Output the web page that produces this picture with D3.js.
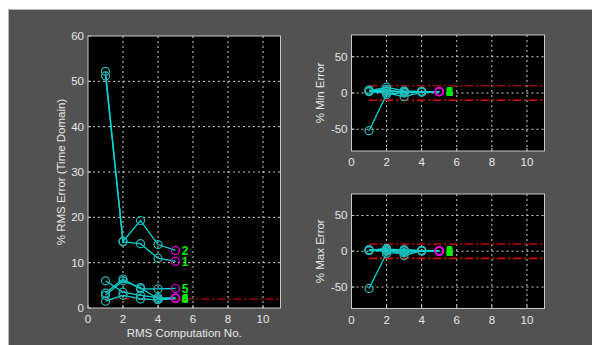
<!DOCTYPE html>
<html>
<head>
<meta charset="utf-8">
<script src="https://cdn.jsdelivr.net/npm/d3@7"></script>
<style>
  body { margin: 0; background: #fff; }
  svg { display: block; font-family: "Liberation Sans", Arial, sans-serif; }
</style>
</head>
<body>
<div id="chart"></div>
<script>
// computation numbers
const steps = [1, 2, 3, 4, 5];
const seriesNames = ["1", "2", "3", "4", "5", "6"];

// % RMS error per series
const rmsErr = [
  [51.2, 14.6, 14.2, 11.0, 10.3],
  [52.2, 14.7, 19.3, 14.0, 12.7],
  [6.0, 3.5, 2.8, 2.3, 2.2],
  [2.8, 6.0, 4.5, 2.0, 2.2],
  [3.3, 6.4, 4.2, 4.2, 4.3],
  [1.5, 2.8, 2.0, 1.8, 2.1]
];
// % min error per series
const minErr = [
  [-52, -2, 1, 2, 2],
  [3, 8, 3, 2, 2],
  [4, 3, 2, 2, 2],
  [2, 0, -5, 1, 2],
  [3, 5, 0, 2, 2],
  [2, 2, 2, 2, 2]
];
// % max error per series
const maxErr = [
  [-52, -3, -2, 0, 0],
  [2, 3, 2, 1, 0],
  [1, 4, -6, 1, 1],
  [2, 2, 1, 1, 0],
  [1, 1, 2, 1, 1],
  [2, 0, 1, 1, 0]
];

const xTicks = [0, 2, 4, 6, 8, 10];
const rmsTicks = [0, 10, 20, 30, 40, 50, 60];
const errTicks = [-50, 0, 50];
const rmsLimit = [2];
const errLimits = [10, -10];

const width = 592, height = 345;
const svg = d3.select("#chart").append("svg")
  .attr("width", width).attr("height", height);

// figure panel
svg.append("rect").attr("x", 8).attr("y", 9)
  .attr("width", width - 8).attr("height", height - 9)
  .attr("fill", "#525252");
svg.append("path").attr("d", "M8.5,345V9.5H592")
  .attr("fill", "none").attr("stroke", "#b8b8b8");

const textCol = "#e6e6e6";

function drawAxes(box, yDomain, yTicks, ylabel, xlabel, data, limits, labelOffset) {
  const x = d3.scaleLinear().domain([0, 11]).range([box.x0, box.x1]);
  const y = d3.scaleLinear().domain(yDomain).range([box.y1, box.y0]);
  const g = svg.append("g");

  g.append("rect").attr("x", box.x0).attr("y", box.y0)
    .attr("width", box.x1 - box.x0).attr("height", box.y1 - box.y0)
    .attr("fill", "#000");

  // grid
  g.selectAll(".gx").data(xTicks.slice(1)).enter().append("line")
    .attr("x1", d => x(d)).attr("x2", d => x(d))
    .attr("y1", box.y0).attr("y2", box.y1)
    .attr("stroke", "#d0d0d0").attr("stroke-dasharray", "2,3");
  g.selectAll(".gy").data(yTicks.filter(d => d !== yDomain[0] && d !== yDomain[1])).enter().append("line")
    .attr("x1", box.x0).attr("x2", box.x1)
    .attr("y1", d => y(d)).attr("y2", d => y(d))
    .attr("stroke", "#d0d0d0").attr("stroke-dasharray", "2,3");

  // limit lines
  limits.forEach((v, i) => {
    g.append("line")
      .attr("x1", x(1)).attr("x2", box.x1)
      .attr("y1", y(v)).attr("y2", y(v))
      .attr("stroke", i === 0 ? "#a00000" : "#e00000")
      .attr("stroke-width", 1.6)
      .attr("stroke-dasharray", "8,3,2,3");
  });

  // series
  const line = d3.line().x((d, i) => x(steps[i])).y(d => y(d));
  data.forEach(s => {
    g.append("path").datum(s).attr("d", line)
      .attr("fill", "none").attr("stroke", "#00d4d4").attr("stroke-width", 1.3);
  });
  data.forEach(s => {
    g.selectAll(null).data(s.slice(0, -1)).enter().append("circle")
      .attr("cx", (d, i) => x(steps[i])).attr("cy", d => y(d)).attr("r", 4)
      .attr("fill", "none").attr("stroke", "#22b8b8").attr("stroke-width", 1.2);
  });
  data.forEach((s, k) => {
    const last = s[s.length - 1];
    g.append("circle").attr("cx", x(steps[steps.length - 1])).attr("cy", y(last)).attr("r", 4)
      .attr("fill", "none").attr("stroke", "#e000e0").attr("stroke-width", 1.2);
    g.append("text").attr("x", x(steps[steps.length - 1] + labelOffset)).attr("y", y(last) + 4.5)
      .attr("fill", "#00ee00").attr("font-weight", "bold").attr("font-size", 12)
      .text(seriesNames[k]);
  });

  // frame
  g.append("rect").attr("x", box.x0).attr("y", box.y0)
    .attr("width", box.x1 - box.x0).attr("height", box.y1 - box.y0)
    .attr("fill", "none").attr("stroke", "#c8c8c8");

  // inner tick marks
  g.selectAll(".tx").data(xTicks).enter().append("line")
    .attr("x1", d => x(d)).attr("x2", d => x(d))
    .attr("y1", box.y1).attr("y2", box.y1 - 3).attr("stroke", "#c8c8c8");
  g.selectAll(".ty").data(yTicks).enter().append("line")
    .attr("x1", box.x0).attr("x2", box.x0 + 3)
    .attr("y1", d => y(d)).attr("y2", d => y(d)).attr("stroke", "#c8c8c8");

  // tick labels
  g.selectAll(".lx").data(xTicks).enter().append("text")
    .attr("x", d => x(d)).attr("y", box.y1 + 15)
    .attr("text-anchor", "middle").attr("font-size", 11.5).attr("fill", textCol)
    .text(d => d);
  g.selectAll(".ly").data(yTicks).enter().append("text")
    .attr("x", box.x0 - 4).attr("y", d => y(d) + 4)
    .attr("text-anchor", "end").attr("font-size", 11.5).attr("fill", textCol)
    .text(d => d);

  g.append("text")
    .attr("transform", `translate(${box.ylabelX},${(box.y0 + box.y1) / 2}) rotate(-90)`)
    .attr("text-anchor", "middle").attr("font-size", 11.5).attr("fill", textCol)
    .text(ylabel);
  if (xlabel) {
    g.append("text").attr("x", (box.x0 + box.x1) / 2).attr("y", box.y1 + 29)
      .attr("text-anchor", "middle").attr("font-size", 11.5).attr("fill", textCol)
      .text(xlabel);
  }
}

drawAxes({ x0: 88, x1: 280.5, y0: 36, y1: 308, ylabelX: 65 },
  [0, 60], rmsTicks, "% RMS Error (Time Domain)", "RMS Computation No.", rmsErr, rmsLimit, 0.35);
drawAxes({ x0: 351.5, x1: 544.5, y0: 35, y1: 151, ylabelX: 324 },
  [-80, 80], errTicks, "% Min Error", null, minErr, errLimits, 0.4);
drawAxes({ x0: 351.5, x1: 544.5, y0: 194, y1: 308.5, ylabelX: 324 },
  [-80, 80], errTicks, "% Max Error", null, maxErr, errLimits, 0.4);
</script>
</body>
</html>
